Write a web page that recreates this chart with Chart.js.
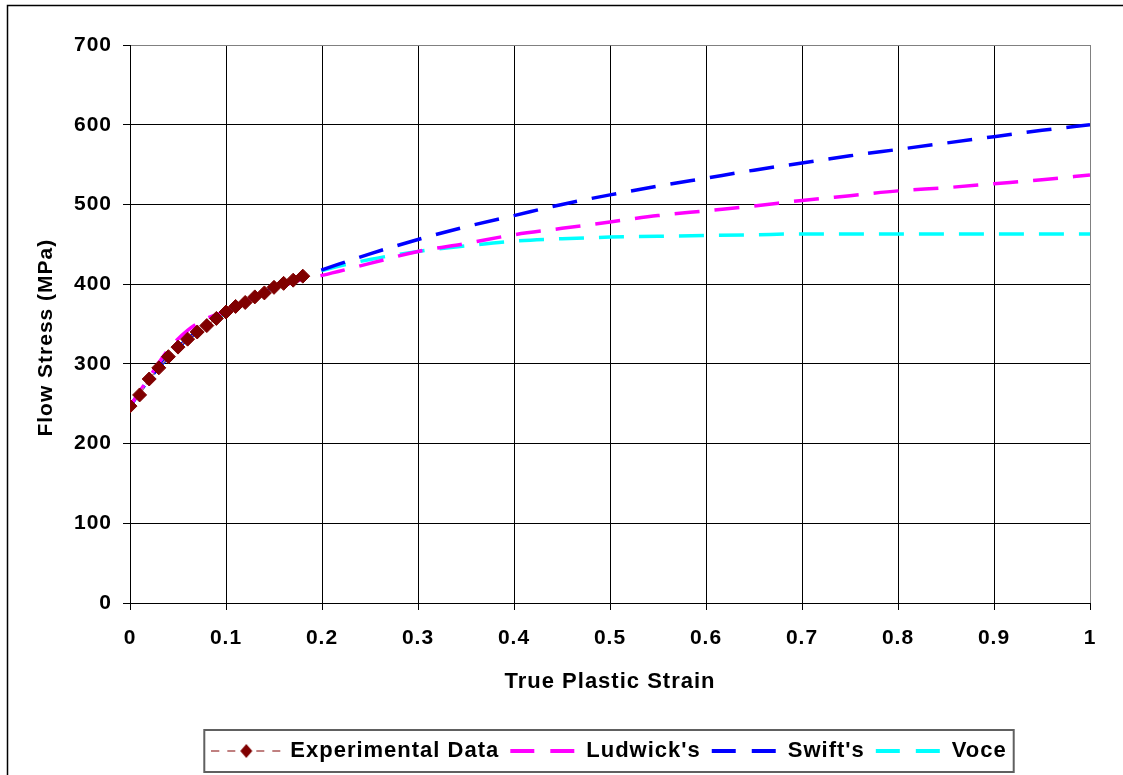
<!DOCTYPE html>
<html><head><meta charset="utf-8">
<script src="https://cdn.jsdelivr.net/npm/chart.js@4.4.0/dist/chart.umd.min.js"></script>
<style>html,body{margin:0;padding:0;background:#fff;overflow:hidden}canvas{display:block}</style>
</head><body>
<canvas id="c" width="1123" height="775" style="width:1123px;height:775px"></canvas>
<script>
// ---- data ----
const expStrain = [0,0.01,0.02,0.03,0.04,0.05,0.06,0.07,0.08,0.09,0.1,0.11,0.12,0.13,0.14,0.15,0.16,0.17,0.18];
const expStress = [247,261,281,295,309,321,331,340,348,357,365,372,377,384,389,396,401,405,410];
const modelStrain = [0,0.02,0.04,0.06,0.08,0.1,0.12,0.14,0.16,0.18,0.2,0.25,0.3,0.35,0.4,0.45,0.5,0.55,0.6,0.65,0.7,0.75,0.8,0.85,0.9,0.95,1.0];
const ludwickStress = [247,283,318,342,357,366,378,389,398,406,411,426,441,451,462,470,478,486,492,498,505,511,517,521,526,531,537];
const swiftStress = [247,281,309,331,349,365,378,390,400,410,418,438,456,472,486,500,512,523,533,543,552,561,569,577,585,593,600];
const voceStress = [247,281,309,331,349,364,378,390,400,409,417,431,441,448,454,457,459,460,461,462,463,463,463,463,463,463,463];
const seriesNames = ["Experimental Data", "Ludwick's", "Swift's", "Voce"];
const xTitle = "True Plastic Strain";
const yTitle = "Flow Stress (MPa)";

const toXY = (xs, ys) => xs.map((x, i) => ({x: x, y: ys[i]}));

// legend symbols
function lineSymbol(color) {
  const c = document.createElement('canvas'); c.width = 66; c.height = 6;
  const g = c.getContext('2d'); g.fillStyle = color;
  g.fillRect(1, 1, 24, 4); g.fillRect(41, 1, 24, 4);
  return c;
}
function expSymbol() {
  const c = document.createElement('canvas'); c.width = 70; c.height = 16;
  const g = c.getContext('2d');
  g.fillStyle = '#C08080';
  [0, 16, 45, 61].forEach(x => g.fillRect(x, 7, 8, 2));
  g.fillStyle = '#800000';
  g.beginPath(); g.moveTo(35, 1); g.lineTo(41, 8); g.lineTo(35, 15); g.lineTo(29, 8); g.closePath(); g.fill();
  return c;
}
const legendSymbols = [expSymbol(), lineSymbol('#FF00FF'), lineSymbol('#0000FF'), lineSymbol('#00FFFF')];

const spacing = {
  id: 'spacing',
  beforeUpdate(ch) { ch.ctx.letterSpacing = '1px'; },
  beforeLayout(ch) { ch.ctx.letterSpacing = '1px'; },
  beforeDraw(ch) {
    const g = ch.ctx;
    g.letterSpacing = '1px';
    g.save();
    g.fillStyle = '#fff'; g.fillRect(0, 0, ch.width, ch.height);
    g.strokeStyle = '#000'; g.lineWidth = 1.5;
    g.beginPath(); g.moveTo(7.5, 775); g.lineTo(7.5, 5.5); g.lineTo(1123, 5.5); g.stroke();
    g.restore();
  },
  afterLayout(ch) {
    const lg = ch.legend;
    if (lg) { const d = 610 - (lg.left + lg.right) / 2; lg.left += d; lg.right += d; }
  },
  afterDraw(ch) {
    const lg = ch.legend;
    if (!lg || !lg.legendHitBoxes || !lg.legendHitBoxes.length) return;
    const hb = lg.legendHitBoxes;
    const l = Math.min(...hb.map(h => h.left)) - 9;
    const r = Math.max(...hb.map(h => h.left + h.width)) + 7;
    const g = ch.ctx; g.save();
    g.strokeStyle = '#606060'; g.lineWidth = 2;
    g.strokeRect(l, 730, r - l, 42);
    g.restore();
  }
};

const tickFont = {family: "'Liberation Sans', Arial, sans-serif", size: 21, weight: 'bold'};

new Chart(document.getElementById('c'), {
  type: 'line',
  data: {
    datasets: [
      {label: seriesNames[0], data: toXY(expStrain, expStress), borderColor: '#C08080', borderWidth: 1.5,
       borderDash: [5, 4], pointStyle: 'rectRot', pointRadius: 7, pointBackgroundColor: '#800000',
       pointBorderColor: '#800000', pointBorderWidth: 1, tension: 0},
      {label: seriesNames[1], data: toXY(modelStrain, ludwickStress), borderColor: '#FF00FF', borderWidth: 3.5,
       borderDash: [25, 15], pointRadius: 0, cubicInterpolationMode: 'monotone'},
      {label: seriesNames[2], data: toXY(modelStrain, swiftStress), borderColor: '#0000FF', borderWidth: 3.5,
       borderDash: [25, 15], pointRadius: 0, cubicInterpolationMode: 'monotone'},
      {label: seriesNames[3], data: toXY(modelStrain, voceStress), borderColor: '#00FFFF', borderWidth: 3.5,
       borderDash: [25, 15], pointRadius: 0, cubicInterpolationMode: 'monotone'}
    ]
  },
  options: {
    responsive: false,
    animation: false,
    devicePixelRatio: 1,
    layout: {padding: {top: 45, right: 33, bottom: 3, left: 0}},
    plugins: {
      tooltip: {enabled: false},
      title: {display: false},
      legend: {
        position: 'bottom',
        labels: {
          usePointStyle: true,
          pointStyleWidth: 66,
          padding: 10,
          color: '#000',
          font: {family: "'Liberation Sans', Arial, sans-serif", size: 22, weight: 'bold'},
          generateLabels: (ch) => seriesNames.map((n, i) => ({
            text: n, pointStyle: legendSymbols[i], datasetIndex: i, hidden: false,
            fontColor: '#000', lineWidth: 0, strokeStyle: 'transparent', fillStyle: 'transparent'
          }))
        }
      }
    },
    scales: {
      x: {
        type: 'linear', min: 0, max: 1,
        afterFit: (s) => { s.height = 127; },
        ticks: {stepSize: 0.1, color: '#000', font: tickFont, padding: 16, maxRotation: 0,
                callback: (v) => String(+v.toFixed(1))},
        grid: {color: (c) => (c.tick && Math.abs(c.tick.value - 1) < 1e-9) ? '#808080' : '#000',
               lineWidth: 1, tickLength: 7, tickColor: '#000'},
        border: {color: '#000', width: 1},
        title: {display: true, text: xTitle, color: '#000',
                font: {family: "'Liberation Sans', Arial, sans-serif", size: 22, weight: 'bold'},
                padding: {top: 0, bottom: 35}}
      },
      y: {
        type: 'linear', min: 0, max: 700,
        afterFit: (s) => { s.width = 130; },
        ticks: {stepSize: 100, color: '#000', font: tickFont, padding: 11},
        grid: {color: (c) => (c.tick && c.tick.value === 700) ? '#808080' : '#000',
               lineWidth: 1, tickLength: 7, tickColor: '#000'},
        border: {color: '#000', width: 1},
        title: {display: true, text: yTitle + '\u00A0\u00A0\u00A0\u00A0', color: '#000',
                font: {family: "'Liberation Sans', Arial, sans-serif", size: 21, weight: 'bold'},
                padding: {top: 34, bottom: 0}}
      }
    }
  },
  plugins: [spacing]
});
</script>
</body></html>
